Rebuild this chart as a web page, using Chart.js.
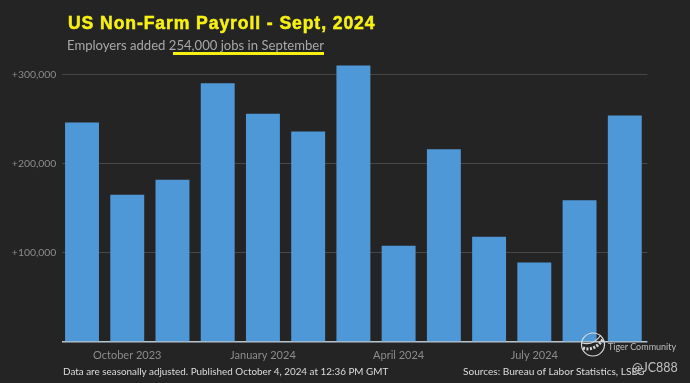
<!DOCTYPE html>
<html><head><meta charset="utf-8">
<script src="https://cdn.jsdelivr.net/npm/chart.js@4"></script>
<style>
html,body{margin:0;padding:0;background:#242424;overflow:hidden}
#wrap{position:relative;width:690px;height:383px;background:#242424}
canvas{position:absolute;left:0;top:0}
.t{position:absolute;white-space:nowrap;line-height:1}
#title{left:68px;top:13px;font:bold 17.6px "Liberation Sans";letter-spacing:.9px;color:#f6f014;-webkit-text-stroke:.5px #f6f014}
#sub{left:67px;top:37px;font:13.1px Lato;color:#a8a8a8}
#ul{position:absolute;left:173px;top:52px;width:151px;height:2.5px;background:#f6f014}
#f1{left:63px;top:365px;font:9.9px Lato;color:#dcdcdc}
#f2{left:463px;top:365px;font:10.1px Lato;color:#dcdcdc}
#w1{left:608px;top:341px;font:9px Lato;color:#bdbdbd}
#w2{left:632px;top:360px;font:12.5px Lato;color:#c0c0c0}
#mask{position:absolute;left:58px;top:60px;width:4px;height:290px;background:#242424}
svg{position:absolute;left:579px;top:331px}
</style></head><body>
<div id="wrap">
<canvas id="c" width="690" height="383"></canvas>
<div id="mask"></div>
<div class="t" id="title">US Non-Farm Payroll - Sept, 2024</div>
<div class="t" id="sub">Employers added 254,000 jobs in September</div>
<div id="ul"></div>
<div class="t" id="f1">Data are seasonally adjusted. Published October 4, 2024 at 12:36 PM GMT</div>
<div class="t" id="f2">Sources: Bureau of Labor Statistics, LSEG</div>
<svg width="28" height="28" viewBox="0 0 28 28" fill="none" stroke="#d8d8d8" stroke-width="1.2">
<circle cx="14" cy="13.5" r="11.5"/>
<path d="M3 12 C10 14 17 11 22 4" /><path d="M4 17 C12 20 20 15 24 8" stroke-dasharray="2 1.5" stroke-width="3"/>
</svg>
<div class="t" id="w1">Tiger Community</div>
<div class="t" id="w2">@JC888</div>
</div>
<script>
const categories = ["September 2023","October 2023","November 2023","December 2023","January 2024","February 2024","March 2024","April 2024","May 2024","June 2024","July 2024","August 2024","September 2024"];
const payrolls = [246000,165000,182000,290000,256000,236000,310000,108000,216000,118000,89000,159000,254000];
const shownMonths = ["October 2023","January 2024","April 2024","July 2024"];
const yTicks = [100000,200000,300000];

new Chart(document.getElementById('c'), {
  type: 'bar',
  data: { labels: categories, datasets: [{ data: payrolls, backgroundColor: '#4f98d8', borderWidth: 0, categoryPercentage: 1, barPercentage: 0.75 }] },
  options: {
    responsive: false, animation: false,
    layout: { padding: { top: 56.6, right: 42.6, left: 0, bottom: 0 } },
    plugins: { legend: { display: false }, tooltip: { enabled: false } },
    scales: {
      x: {
        grid: { display: false },
        border: { display: false },
        afterFit(s) { s.height = 41; },
        ticks: { autoSkip: false, maxRotation: 0, minRotation: 0, padding: -1, color: '#8c8c8c', font: { family: 'Lato', size: 11 },
          callback(v) { const l = categories[v]; return shownMonths.includes(l) ? l : ''; } }
      },
      y: {
        min: 0, max: 320000,
        afterFit(s) { s.width = 59.4; },
        afterBuildTicks(s) { s.ticks = [0, ...yTicks].map(value => ({ value })); },
        border: { display: false },
        grid: { drawTicks: false, lineWidth: c => c.tick.value === 0 ? 1.5 : 1, color: c => c.tick.value === 0 ? '#b8c6d0' : '#474747' },
        ticks: { padding: 3, color: '#8c8c8c', font: { family: 'Lato', size: 10.4 },
          callback(v) { return v === 0 ? '' : '+' + v.toLocaleString('en-US'); } }
      }
    }
  }
});
</script>
</body></html>
